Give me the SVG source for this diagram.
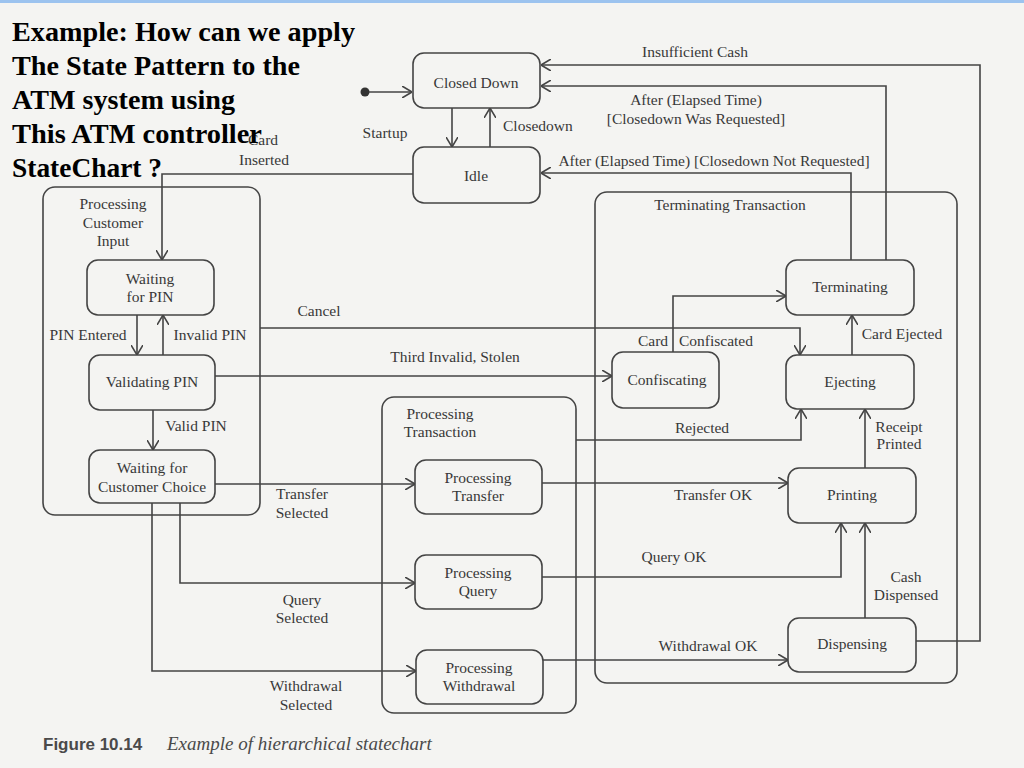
<svg xmlns="http://www.w3.org/2000/svg" width="1024" height="768" viewBox="0 0 1024 768">
<style>
.bg{fill:#f4f4f2}
.st{fill:none;stroke:#444;stroke-width:1.6}
.cn{fill:none;stroke:#444;stroke-width:1.6}
.t{font-family:"Liberation Serif","Times New Roman",serif;font-size:15.5px;fill:#383838}
.c{text-anchor:middle}
.title{font-family:"Liberation Serif","Times New Roman",serif;font-size:27px;font-weight:bold;fill:#000}
</style>
<defs>
<marker id="ar" viewBox="0 0 10 12" markerWidth="10" markerHeight="12" refX="10" refY="6" orient="auto" markerUnits="userSpaceOnUse">
<path d="M0,0 L10,6 L0,12" fill="none" stroke="#444" stroke-width="1.6"/>
</marker>
</defs>
<rect class="bg" x="0" y="0" width="1024" height="768"/>
<rect x="0" y="0" width="1024" height="3" fill="#9cc3ef"/>

<g id="composite-states">
<g id="processing-customer-input">
<rect class="st" x="43" y="187" width="217" height="328" rx="12"/>
<text class="t c" x="113" y="209">Processing</text>
<text class="t c" x="113" y="228">Customer</text>
<text class="t c" x="113" y="246">Input</text>
</g>
<g id="processing-transaction">
<rect class="st" x="382" y="397" width="194" height="316" rx="12"/>
<text class="t c" x="440" y="419">Processing</text>
<text class="t c" x="440" y="437">Transaction</text>
</g>
<g id="terminating-transaction">
<rect class="st" x="595" y="192" width="362" height="491" rx="12"/>
<text class="t c" x="730" y="210">Terminating Transaction</text>
</g>
</g>

<g id="connectors">
<circle cx="365" cy="92" r="4.5" fill="#333"/>
<path class="cn" d="M369,92 H412" marker-end="url(#ar)"/>
<path class="cn" d="M452,108 V147" marker-end="url(#ar)"/>
<path class="cn" d="M490,147 V108" marker-end="url(#ar)"/>
<path class="cn" d="M916,641 H980 V65 H541" marker-end="url(#ar)"/>
<path class="cn" d="M886,260 V86 H541" marker-end="url(#ar)"/>
<path class="cn" d="M851,260 V173 H541" marker-end="url(#ar)"/>
<path class="cn" d="M413,174 H162 V260" marker-end="url(#ar)"/>
<path class="cn" d="M137,315 V355" marker-end="url(#ar)"/>
<path class="cn" d="M163,355 V315" marker-end="url(#ar)"/>
<path class="cn" d="M153,410 V450" marker-end="url(#ar)"/>
<path class="cn" d="M260,328 H800 V355" marker-end="url(#ar)"/>
<path class="cn" d="M215,376 H612" marker-end="url(#ar)"/>
<path class="cn" d="M673,352 V296 H786" marker-end="url(#ar)"/>
<path class="cn" d="M852,355 V315" marker-end="url(#ar)"/>
<path class="cn" d="M576,440 H801 V409" marker-end="url(#ar)"/>
<path class="cn" d="M865,468 V409" marker-end="url(#ar)"/>
<path class="cn" d="M215,484 H415" marker-end="url(#ar)"/>
<path class="cn" d="M180,503 V583 H415" marker-end="url(#ar)"/>
<path class="cn" d="M152,503 V671 H416" marker-end="url(#ar)"/>
<path class="cn" d="M542,483 H788" marker-end="url(#ar)"/>
<path class="cn" d="M542,577 H841 V523" marker-end="url(#ar)"/>
<path class="cn" d="M543,660 H788" marker-end="url(#ar)"/>
<path class="cn" d="M865,618 V523" marker-end="url(#ar)"/>
</g>

<g id="connector-labels">
<text class="t c" x="385" y="138">Startup</text>
<text class="t" x="503" y="131">Closedown</text>
<text class="t c" x="695" y="57">Insufficient Cash</text>
<text class="t c" x="696" y="105">After (Elapsed Time)</text>
<text class="t c" x="696" y="124">[Closedown Was Requested]</text>
<text class="t c" x="714" y="166">After (Elapsed Time) [Closedown Not Requested]</text>
<text class="t c" x="263" y="145">Card</text>
<text class="t c" x="264" y="165">Inserted</text>
<text class="t c" x="88" y="340">PIN Entered</text>
<text class="t c" x="210" y="340">Invalid PIN</text>
<text class="t c" x="196" y="431">Valid PIN</text>
<text class="t c" x="319" y="316">Cancel</text>
<text class="t c" x="455" y="362">Third Invalid, Stolen</text>
<text class="t c" x="653" y="346">Card</text>
<text class="t c" x="716" y="346">Confiscated</text>
<text class="t c" x="902" y="339">Card Ejected</text>
<text class="t c" x="702" y="433">Rejected</text>
<text class="t c" x="899" y="432">Receipt</text>
<text class="t c" x="899" y="449">Printed</text>
<text class="t c" x="302" y="499">Transfer</text>
<text class="t c" x="302" y="518">Selected</text>
<text class="t c" x="302" y="605">Query</text>
<text class="t c" x="302" y="623">Selected</text>
<text class="t c" x="306" y="691">Withdrawal</text>
<text class="t c" x="306" y="710">Selected</text>
<text class="t c" x="713" y="500">Transfer OK</text>
<text class="t c" x="674" y="562">Query OK</text>
<text class="t c" x="708" y="651">Withdrawal OK</text>
<text class="t c" x="906" y="582">Cash</text>
<text class="t c" x="906" y="600">Dispensed</text>
</g>

<g id="closed-down"><rect class="st" x="413" y="53" width="127" height="55" rx="11"/><text class="t c" x="476" y="88">Closed Down</text></g>
<g id="idle"><rect class="st" x="413" y="147" width="127" height="56" rx="11"/><text class="t c" x="476" y="181">Idle</text></g>
<g id="waiting-for-pin"><rect class="st" x="87" y="260" width="127" height="55" rx="11"/><text class="t c" x="150" y="284">Waiting</text><text class="t c" x="150" y="302">for PIN</text></g>
<g id="validating-pin"><rect class="st" x="89" y="355" width="126" height="55" rx="11"/><text class="t c" x="152" y="387">Validating PIN</text></g>
<g id="waiting-for-customer-choice"><rect class="st" x="89" y="450" width="126" height="53" rx="11"/><text class="t c" x="152" y="473">Waiting for</text><text class="t c" x="152" y="492">Customer Choice</text></g>
<g id="processing-transfer"><rect class="st" x="415" y="460" width="127" height="54" rx="11"/><text class="t c" x="478" y="483">Processing</text><text class="t c" x="478" y="501">Transfer</text></g>
<g id="processing-query"><rect class="st" x="415" y="555" width="127" height="54" rx="11"/><text class="t c" x="478" y="578">Processing</text><text class="t c" x="478" y="596">Query</text></g>
<g id="processing-withdrawal"><rect class="st" x="416" y="650" width="127" height="54" rx="11"/><text class="t c" x="479" y="673">Processing</text><text class="t c" x="479" y="691">Withdrawal</text></g>
<g id="confiscating"><rect class="st" x="612" y="352" width="107" height="56" rx="11"/><text class="t c" x="667" y="385">Confiscating</text></g>
<g id="terminating"><rect class="st" x="786" y="260" width="128" height="55" rx="11"/><text class="t c" x="850" y="292">Terminating</text></g>
<g id="ejecting"><rect class="st" x="786" y="355" width="128" height="54" rx="11"/><text class="t c" x="850" y="387">Ejecting</text></g>
<g id="printing"><rect class="st" x="788" y="468" width="128" height="55" rx="11"/><text class="t c" x="852" y="500">Printing</text></g>
<g id="dispensing"><rect class="st" x="788" y="618" width="128" height="54" rx="11"/><text class="t c" x="852" y="649">Dispensing</text></g>

<g id="title">
<text class="title" x="12" y="41" textLength="343" lengthAdjust="spacingAndGlyphs">Example: How can we apply</text>
<text class="title" x="12" y="75" textLength="288" lengthAdjust="spacingAndGlyphs">The State Pattern to the</text>
<text class="title" x="12" y="109" textLength="223" lengthAdjust="spacingAndGlyphs">ATM system using</text>
<text class="title" x="12" y="143" textLength="250" lengthAdjust="spacingAndGlyphs">This ATM controller</text>
<text class="title" x="12" y="177" textLength="150" lengthAdjust="spacingAndGlyphs">StateChart ?</text>
</g>

<g id="caption">
<text x="43" y="750" font-family="'Liberation Sans',Arial,sans-serif" font-size="17" font-weight="bold" fill="#4a4a4a">Figure 10.14</text>
<text x="167" y="750" font-family="'Liberation Serif','Times New Roman',serif" font-size="19" font-style="italic" fill="#4a4a4a">Example of hierarchical statechart</text>
</g>
</svg>
